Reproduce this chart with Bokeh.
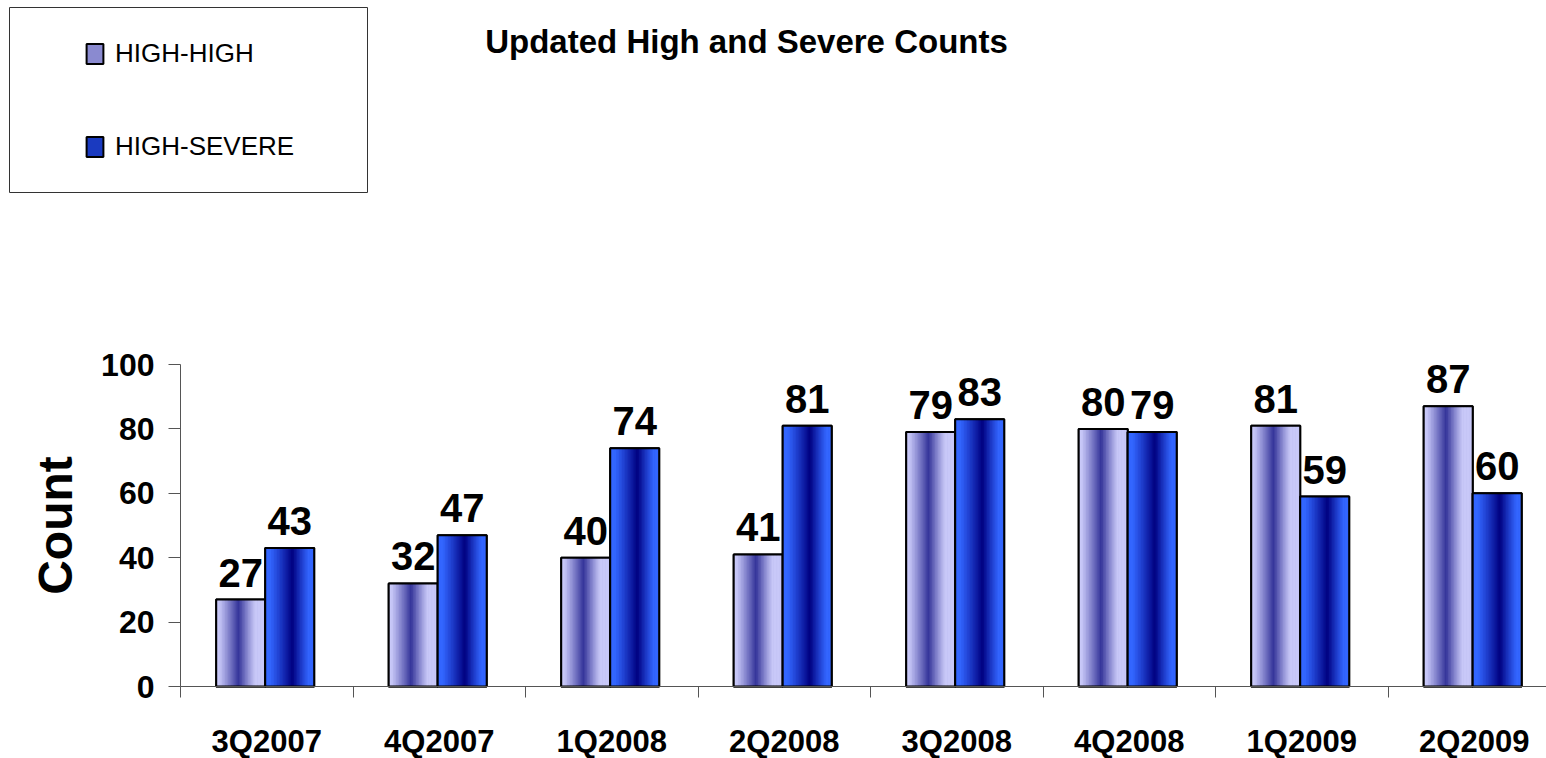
import math
import numpy as np
from bokeh.plotting import figure
from bokeh.models import (ColumnDataSource, Range1d, FixedTicker, Legend, LegendItem,
                          BoxAnnotation, Label)
from bokeh.core.properties import value
from bokeh.embed import file_html
from bokeh.resources import INLINE

# ---- data ----
quarters = ["3Q2007", "4Q2007", "1Q2008", "2Q2008", "3Q2008", "4Q2008", "1Q2009", "2Q2009"]
high_high = [27, 32, 40, 41, 79, 80, 81, 87]
high_severe = [43, 47, 74, 81, 83, 79, 59, 60]
series_names = ["HIGH-HIGH", "HIGH-SEVERE"]
y_ticks = [0, 20, 40, 60, 80, 100]
title_text = "Updated High and Severe Counts"
y_label = "Count"

FONT = "'Liberation Sans', Arial, sans-serif"

# ---- layout / styles ----
W, H = 1546, 758
AXIS_X_PX = 180          # canvas x of the value axis
AXIS_Y_PX = 686          # canvas y of the category axis
SLOT_PX = 172.5          # width of one category slot
UNIT_PX = 3.22           # pixels per count
BAR_W = 0.284
OFFSETS = [0.349, 0.633]  # bar centre within each category slot
GRAD = [
    dict(light=(200, 200, 248), dark=(51, 51, 153), c=0.46, hl=0.40, hr=0.34),
    dict(light=(51, 102, 255), dark=(0, 0, 128), c=0.56, hl=0.46, hr=0.34),
]
MID = ["#8a8ad0", "#1a3ac0"]
N_STRIPS = 32

x_range = Range1d(-AXIS_X_PX / SLOT_PX, (W - AXIS_X_PX) / SLOT_PX)
y_range = Range1d(-(H - AXIS_Y_PX) / UNIT_PX, AXIS_Y_PX / UNIT_PX)

p = figure(width=W, height=H, output_backend="svg", toolbar_location=None,
           x_range=x_range, y_range=y_range,
           min_border=0, min_border_left=0, min_border_right=0,
           min_border_top=0, min_border_bottom=0)
p.outline_line_color = None
p.grid.visible = False
p.background_fill_color = "white"


def grad_color(t, g):
    if t < g["c"]:
        d = (g["c"] - t) / g["hl"]
    else:
        d = (t - g["c"]) / g["hr"]
    f = max(0.0, 1.0 - d) ** 1.1
    r = [int(round(l + (dk - l) * f)) for l, dk in zip(g["light"], g["dark"])]
    return "#%02x%02x%02x" % tuple(r)


legend_items = []
for s, vals in enumerate([high_high, high_severe]):
    idx = np.arange(len(quarters))
    centers = idx + OFFSETS[s]
    base_src = ColumnDataSource(dict(x=centers, top=vals))
    r_base = p.vbar(x="x", top="top", bottom=0, width=BAR_W, source=base_src,
                    fill_color=MID[s], line_color="black", line_width=2)
    legend_items.append(LegendItem(label=series_names[s], renderers=[r_base]))
    xs, tops, cols = [], [], []
    sw = BAR_W / N_STRIPS
    for i, v in enumerate(vals):
        left = centers[i] - BAR_W / 2
        for j in range(N_STRIPS):
            t = (j + 0.5) / N_STRIPS
            xs.append(left + (j + 0.5) * sw)
            tops.append(v)
            cols.append(grad_color(t, GRAD[s]))
    strip_src = ColumnDataSource(dict(x=xs, top=tops, color=cols))
    p.vbar(x="x", top="top", bottom=0, width=sw * 1.35, source=strip_src,
           fill_color="color", line_color=None)
    p.vbar(x="x", top="top", bottom=0, width=BAR_W, source=base_src,
           fill_color=None, line_color="black", line_width=2)
    lab_src = ColumnDataSource(dict(x=centers, y=vals, t=[str(v) for v in vals]))
    p.text(x="x", y="y", text="t", source=lab_src, text_align="center",
           text_baseline="alphabetic", y_offset=-27, text_font=value(FONT),
           text_font_size="40px", text_font_style="bold", text_color="black")

# ---- axes ----
AX = "#555555"
yax = p.yaxis[0]
yax.fixed_location = 0
yax.ticker = FixedTicker(ticks=y_ticks)
yax.bounds = (0, 100)
yax.axis_line_color = AX
yax.major_tick_line_color = AX
yax.major_tick_out = 12
yax.major_tick_in = 0
yax.minor_tick_line_color = None
yax.major_label_text_font = FONT
yax.major_label_text_font_size = "32px"
yax.major_label_text_font_style = "bold"
yax.major_label_text_color = "black"
yax.major_label_standoff = 14

xax = p.xaxis[0]
xax.fixed_location = 0
centers_all = [i + 0.5 for i in range(len(quarters))]
xax.ticker = FixedTicker(ticks=centers_all, minor_ticks=list(range(len(quarters) + 1)))
xax.major_label_overrides = {c: q for c, q in zip(centers_all, quarters)}
xax.bounds = (0, len(quarters))
xax.axis_line_color = AX
xax.major_tick_line_color = None
xax.major_tick_out = 0
xax.major_tick_in = 0
xax.minor_tick_line_color = AX
xax.minor_tick_out = 11
xax.minor_tick_in = 0
xax.major_label_text_font = FONT
xax.major_label_text_font_size = "31px"
xax.major_label_text_font_style = "bold"
xax.major_label_text_color = "black"
xax.major_label_standoff = 26

count_label = Label(x=55, y=H - 525, x_units="screen", y_units="screen", text=y_label,
                    angle=math.pi / 2, text_align="center", text_baseline="middle",
                    text_font=FONT, text_font_size="48px", text_font_style="bold",
                    text_color="black")
p.add_layout(count_label)

# ---- legend ----
legend = Legend(items=legend_items, location=(74, H - 172), orientation="vertical",
                border_line_alpha=0, background_fill_alpha=0, padding=10, margin=0,
                spacing=62, glyph_width=21, glyph_height=25, label_standoff=10,
                label_text_font=FONT, label_text_font_size="26px",
                label_text_color="black", label_height=25)
p.add_layout(legend)

box = BoxAnnotation(left=9, right=367, top=7, bottom=192,
                    left_units="canvas", right_units="canvas",
                    top_units="canvas", bottom_units="canvas",
                    fill_alpha=0, line_color="#333333", line_alpha=1.0, line_width=1)
p.add_layout(box)

title = Label(x=746, y=H - 41, x_units="screen", y_units="screen", text=title_text,
              text_align="center", text_baseline="alphabetic", text_font=FONT,
              text_font_size="33px", text_font_style="bold", text_color="black")
p.add_layout(title)

open("out.html", "w").write(file_html(p, INLINE))
